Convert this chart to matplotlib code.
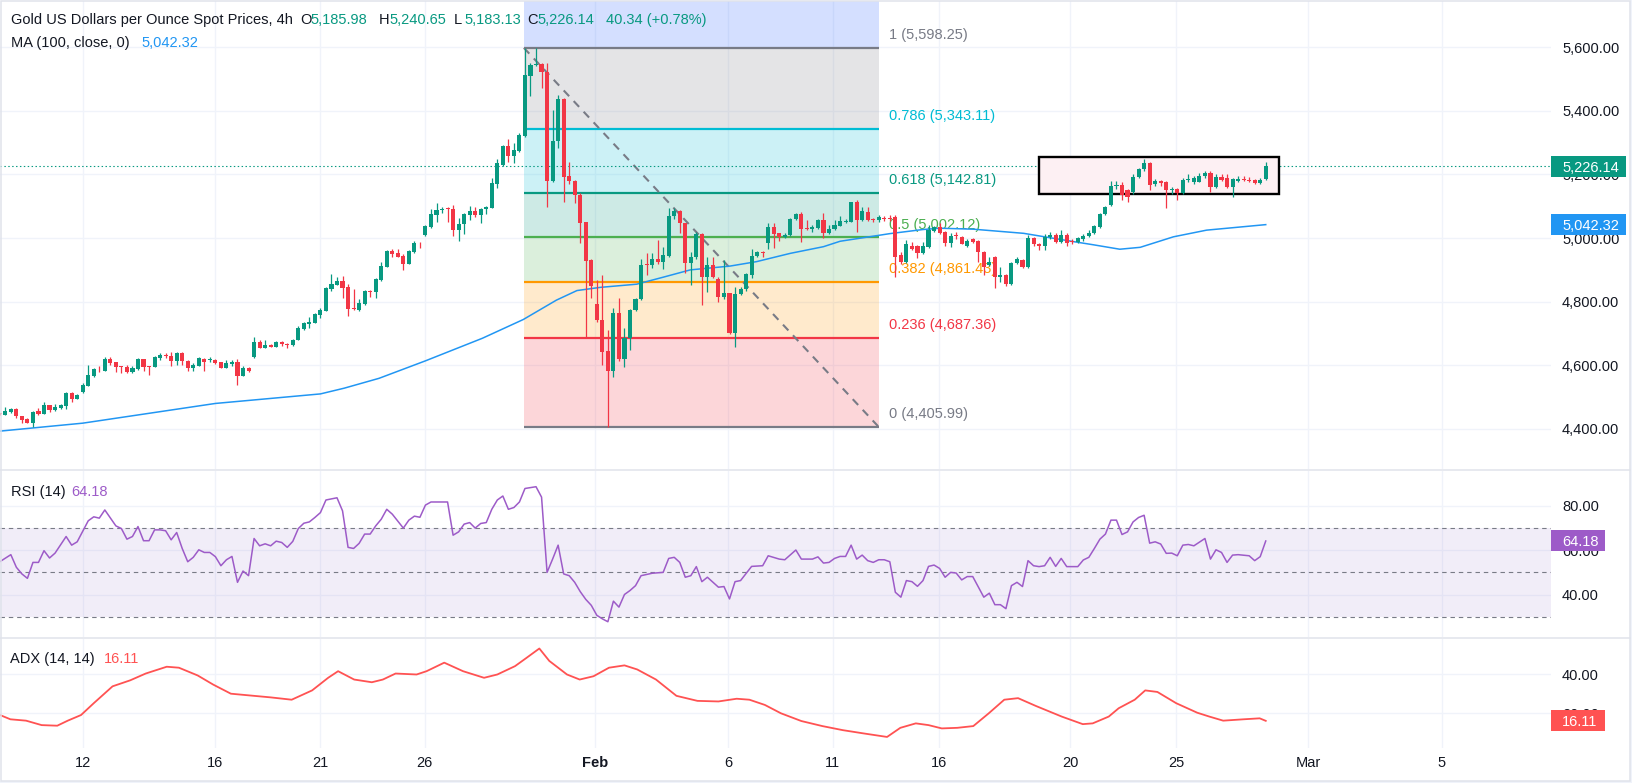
import numpy as np
import matplotlib
matplotlib.use("Agg")
import matplotlib.pyplot as plt
from matplotlib.patches import Rectangle
from matplotlib.lines import Line2D
import matplotlib.transforms as mtransforms

plt.rcParams['font.family'] = ['Liberation Sans', 'DejaVu Sans']

# ---------------- data (4h candles, bar index starts at -1) ----------------
first_bar = -1
opens = [4448,
 4445, 4453, 4463, 4441, 4431, 4420, 4456, 4448, 4475, 4460,
 4466, 4473, 4513, 4495, 4517, 4536, 4566, 4589, 4583, 4620,
 4609, 4598, 4594, 4578, 4587, 4620, 4597, 4596, 4624, 4632,
 4630, 4615, 4640, 4614, 4590, 4599, 4620, 4616, 4618, 4610,
 4593, 4603, 4610, 4567, 4593, 4627, 4672, 4655, 4664, 4659,
 4674, 4667, 4663, 4680, 4713, 4731, 4734, 4759, 4772, 4840,
 4853, 4865, 4846, 4779, 4774, 4793, 4835, 4829, 4868, 4910,
 4960, 4954, 4945, 4920, 4956, 4985, 5010, 5036, 5073, 5088,
 5094, 5091, 5025, 5044, 5073, 5085, 5073, 5090, 5096, 5170,
 5230, 5290, 5259, 5274, 5322, 5511, 5545, 5547, 5521, 5180,
 5305, 5437, 5195, 5178, 5136, 5050, 4931, 4792, 4743, 4645,
 4583, 4764, 4619, 4687, 4774, 4808, 4918, 4914, 4934, 4926,
 4945, 5068, 5086, 5047, 4921, 4940, 5013, 4879, 4916, 4870,
 4816, 4826, 4701, 4824, 4839, 4885, 4944, 4957, 4984, 5034,
 5015, 5003, 5010, 5059, 5076, 5031, 5028, 5031, 5057, 5015,
 5029, 5039, 5052, 5052, 5112, 5057, 5083, 5060, 5057, 5062,
 5063, 5067, 4947, 4926, 4975, 4975, 4952, 4973, 5023, 5034,
 5020, 4986, 5010, 5005, 4975, 4996, 4992, 4957, 4916, 4942,
 4879, 4884, 4856, 4921, 4931, 4910, 4999, 4980, 4975, 5005,
 5010, 4988, 5010, 4989, 4988, 4996, 5008, 5016, 5036, 5075,
 5104, 5163, 5167, 5151, 5146, 5193, 5216, 5237, 5170, 5178,
 5177, 5150, 5154, 5141, 5182, 5177, 5177, 5196, 5205, 5162,
 5191, 5188, 5162, 5181, 5185, 5183, 5183, 5174, 5185.98]
highs = [4450,
 4470, 4465, 4466, 4442, 4434, 4455, 4465, 4483, 4476, 4478,
 4478, 4516, 4516, 4510, 4543, 4601, 4590, 4598, 4625, 4625,
 4610, 4599, 4601, 4599, 4622, 4621, 4598, 4628, 4640, 4640,
 4643, 4643, 4641, 4617, 4606, 4625, 4622, 4625, 4621, 4611,
 4617, 4617, 4620, 4598, 4596, 4688, 4681, 4680, 4666, 4676,
 4676, 4670, 4682, 4724, 4735, 4751, 4766, 4780, 4847, 4887,
 4879, 4881, 4856, 4840, 4809, 4837, 4837, 4874, 4925, 4961,
 4966, 4965, 4950, 4963, 4991, 4987, 5042, 5092, 5111, 5099,
 5099, 5104, 5062, 5080, 5101, 5099, 5094, 5101, 5188, 5248,
 5293, 5312, 5300, 5332, 5598.25, 5550, 5597, 5552, 5552, 5403,
 5450, 5440, 5240, 5182, 5143, 5052, 4933, 4868, 4884, 4711,
 4781, 4813, 4717, 4778, 4812, 4934, 4952, 4952, 4994, 4971,
 5094, 5094, 5088, 5049, 4955, 5020, 5015, 4942, 4942, 4877,
 4931, 4828, 4845, 4845, 4890, 4966, 4960, 4960, 5049, 5047,
 5017, 5015, 5062, 5080, 5083, 5057, 5040, 5060, 5078, 5040,
 5057, 5068, 5060, 5115, 5120, 5099, 5099, 5064, 5072, 5070,
 5072, 5073, 4955, 4993, 4989, 4977, 4989, 5041, 5038, 5046,
 5022, 5015, 5020, 5007, 4996, 4999, 4994, 4959, 4942, 4944,
 4910, 4887, 4926, 4942, 4933, 5010, 5005, 4986, 5012, 5020,
 5015, 5025, 5015, 4996, 5005, 5012, 5025, 5040, 5078, 5100,
 5180, 5178, 5175, 5155, 5200, 5220, 5250, 5240, 5185, 5184,
 5180, 5162, 5158, 5189, 5200, 5195, 5205, 5212, 5212, 5200,
 5202, 5200, 5190, 5196, 5195, 5192, 5186, 5190, 5240.65]
lows = [4444,
 4443, 4450, 4435, 4417, 4419, 4407, 4444, 4446, 4452, 4456,
 4463, 4461, 4483, 4493, 4514, 4534, 4563, 4580, 4581, 4601,
 4580, 4577, 4575, 4577, 4585, 4583, 4571, 4595, 4618, 4622,
 4598, 4602, 4602, 4583, 4583, 4597, 4583, 4610, 4605, 4590,
 4591, 4598, 4539, 4565, 4579, 4622, 4653, 4653, 4657, 4657,
 4660, 4655, 4660, 4678, 4711, 4716, 4732, 4748, 4770, 4835,
 4851, 4813, 4756, 4774, 4772, 4791, 4816, 4813, 4866, 4908,
 4939, 4940, 4900, 4918, 4954, 4970, 5006, 5031, 5052, 5078,
 5052, 5008, 4992, 5013, 5057, 5065, 5049, 5076, 5094, 5159,
 5228, 5240, 5237, 5272, 5318, 5447, 5540, 5473, 5099, 5176,
 5284, 5112, 5170, 5110, 4984, 4690, 4811, 4737, 4600, 4405.99,
 4562, 4615, 4596, 4648, 4770, 4806, 4884, 4905, 4918, 4903,
 4940, 5060, 5015, 4889, 4851, 4935, 4790, 4830, 4875, 4800,
 4810, 4698, 4656, 4820, 4835, 4874, 4940, 4940, 4965, 4968,
 4990, 5000, 5008, 5057, 4989, 5025, 5020, 5029, 4999, 5013,
 5027, 5037, 5048, 5050, 5020, 5055, 5055, 5050, 5050, 5055,
 5055, 4879, 4920, 4922, 4962, 4937, 4950, 4970, 5020, 5013,
 4975, 4973, 4996, 4980, 4973, 4985, 4926, 4884, 4912, 4842,
 4863, 4850, 4853, 4918, 4905, 4907, 4975, 4962, 4962, 4996,
 4985, 4985, 4975, 4980, 4984, 4990, 5005, 5012, 5033, 5072,
 5100, 5155, 5120, 5115, 5140, 5190, 5212, 5150, 5165, 5165,
 5095, 5140, 5120, 5138, 5175, 5170, 5175, 5190, 5145, 5158,
 5180, 5158, 5130, 5175, 5178, 5176, 5170, 5170, 5183.13]
closes = [4446,
 4455, 4463, 4439, 4428, 4420, 4453, 4447, 4475, 4460, 4469,
 4476, 4513, 4494, 4508, 4538, 4570, 4588, 4587, 4620, 4606,
 4596, 4594, 4578, 4590, 4620, 4596, 4596, 4626, 4632, 4630,
 4615, 4640, 4614, 4590, 4601, 4622, 4611, 4618, 4608, 4593,
 4607, 4610, 4567, 4593, 4581, 4672, 4655, 4664, 4659, 4674,
 4667, 4663, 4680, 4716, 4733, 4736, 4762, 4774, 4844, 4856,
 4865, 4844, 4777, 4778, 4796, 4834, 4832, 4870, 4912, 4960,
 4951, 4942, 4920, 4960, 4986, 4983, 5038, 5076, 5088, 5092,
 5091, 5025, 5044, 5076, 5085, 5073, 5092, 5099, 5172, 5235,
 5290, 5259, 5277, 5324, 5513, 5544, 5547, 5521, 5180, 5305,
 5437, 5193, 5178, 5134, 5049, 4929, 4850, 4743, 4643, 4583,
 4764, 4619, 4687, 4774, 4808, 4916, 4916, 4935, 4926, 4947,
 5070, 5086, 5047, 4921, 4940, 5013, 4879, 4916, 4879, 4816,
 4826, 4701, 4824, 4839, 4887, 4944, 4956, 4952, 5034, 5013,
 5003, 5010, 5059, 5076, 5029, 5028, 5036, 5057, 5017, 5029,
 5041, 5054, 5054, 5112, 5057, 5085, 5057, 5057, 5067, 5060,
 5060, 4942, 4926, 4981, 4965, 4952, 4975, 5026, 5034, 5015,
 4986, 5008, 5008, 4982, 4992, 4989, 4957, 4910, 4926, 4877,
 4884, 4856, 4921, 4933, 4910, 4999, 4980, 4975, 5005, 5010,
 4988, 5010, 4985, 4988, 4999, 5007, 5016, 5038, 5075, 5097,
 5164, 5167, 5135, 5128, 5193, 5216, 5237, 5167, 5178, 5174,
 5151, 5153, 5143, 5183, 5184, 5190, 5196, 5205, 5162, 5191,
 5183, 5162, 5185, 5185, 5183, 5181, 5174, 5184, 5226.14]

# MA(100) read at sample bars
ma_x = [-0.96, 14.0, 38.0, 57.0, 61.3, 67.6, 76.0, 86.3, 93.7, 99.7, 103.4, 107.6,
        114.2, 119.0, 123.9, 131.1, 135.9, 142.0, 148.0, 151.0, 154.0, 160.0, 166.0,
        169.1, 175.1, 184.2, 193.2, 196.8, 201.6, 205.3, 211.3, 217.3, 228.0]
ma_v = [4393, 4418, 4480, 4510, 4528, 4559, 4614, 4685, 4744, 4805, 4835, 4845,
        4855, 4877, 4900, 4912, 4926, 4952, 4973, 4990, 4998, 5014, 5027,
        5031, 5028, 5015, 4989, 4979, 4965, 4971, 5004, 5025, 5042.32]

# RSI(14)
rsi_x = [-1, 1, 2, 3, 4, 5, 6, 7, 8, 9, 11, 12, 13, 15, 16, 17, 18, 20, 21, 22, 23, 24,
         25, 26, 27, 28, 29, 30, 31, 32, 33, 34, 35, 36, 37, 38, 39, 40, 41, 42, 43, 44,
         45, 46, 47, 48, 49, 50, 51, 52, 53, 54, 55, 56, 57, 58, 60, 61, 62, 63, 64, 65,
         66, 67, 68, 69, 70, 72, 73, 74, 75, 76, 77, 80, 81, 82, 83, 84, 85, 86, 87, 88,
         89, 90, 91, 92, 93, 94, 96, 97, 98, 99, 100, 101, 102, 103, 104, 105, 106, 107,
         108, 109, 110, 111, 112, 113, 114, 115, 117, 119, 120, 121, 122, 123, 124, 125,
         126, 127, 129, 130, 131, 132, 133, 135, 137, 138, 140, 141, 143, 144, 146, 147,
         148, 149, 150, 151, 152, 153, 154, 155, 156, 157, 158, 159, 160, 161, 162, 163,
         164, 165, 166, 167, 168, 169, 170, 171, 172, 173, 174, 175, 177, 178, 179, 180,
         181, 182, 183, 184, 185, 186, 187, 188, 189, 190, 191, 192, 194, 195, 196, 197,
         198, 199, 200, 201, 202, 203, 204, 205, 206, 207, 208, 209, 210, 211, 212, 213,
         214, 215, 217, 218, 219, 220, 221, 222, 223, 225, 226, 227, 228]
rsi_v = [54.8, 58.0, 52.3, 49.3, 47.3, 54.5, 54.5, 59.8, 56.5, 58.7, 66.2, 62.3, 63.8,
         73.3, 75.1, 74.5, 78.2, 71.0, 69.8, 65.0, 66.2, 70.7, 64.3, 64.3, 69.2, 69.2,
         68.8, 64.7, 68.0, 60.8, 54.8, 56.8, 60.2, 59.0, 59.0, 57.1, 53.0, 55.7, 57.2,
         45.5, 50.6, 48.5, 65.3, 62.0, 62.9, 62.0, 64.1, 63.5, 61.3, 64.0, 69.8, 72.2,
         72.8, 74.8, 77.0, 82.7, 83.7, 77.8, 61.3, 60.8, 63.1, 67.3, 67.3, 71.0, 74.0,
         78.5, 76.3, 70.0, 73.6, 75.4, 74.9, 80.4, 81.8, 81.8, 66.8, 68.3, 71.8, 72.5,
         70.0, 72.1, 72.5, 78.5, 82.7, 84.5, 78.5, 79.3, 81.8, 87.9, 88.7, 84.0, 50.0,
         56.0, 62.3, 49.3, 48.5, 45.5, 41.3, 37.8, 35.1, 30.6, 29.0, 27.7, 37.0, 34.3,
         40.0, 41.8, 44.0, 48.5, 49.6, 50.0, 56.3, 56.8, 54.5, 47.8, 48.5, 52.6, 45.8,
         47.8, 43.3, 43.6, 38.0, 45.8, 46.3, 52.7, 53.0, 57.5, 56.0, 55.7, 60.1, 56.0,
         56.0, 57.0, 54.2, 54.5, 56.3, 57.2, 57.2, 62.3, 56.0, 57.8, 55.3, 54.5, 55.7,
         55.7, 54.8, 41.0, 38.8, 46.3, 45.8, 43.7, 46.3, 52.7, 53.3, 51.8, 47.8, 50.0,
         49.7, 46.6, 48.1, 48.1, 38.8, 40.6, 35.4, 35.4, 33.6, 44.0, 45.5, 43.6, 55.3,
         53.0, 52.6, 53.0, 56.8, 52.7, 56.3, 52.6, 52.6, 55.6, 56.8, 60.8, 65.0, 67.3,
         73.6, 73.6, 67.1, 68.3, 72.8, 74.8, 75.8, 63.2, 63.8, 62.8, 58.6, 58.7, 57.5,
         62.3, 62.6, 62.0, 65.3, 56.0, 60.2, 59.0, 54.5, 57.8, 58.0, 57.5, 55.3, 57.1,
         64.18]

# ADX(14, 14)
adx_x = [-0.96, 0.92, 3.75, 6.57, 9.4, 11.3, 13.7, 16.0, 19.4, 22.6, 25.4, 29.2, 31.4,
         34.8, 37.6, 40.8, 44.2, 48.0, 51.8, 55.5, 58.4, 60.2, 63.1, 66.3, 68.3, 70.6,
         74.4, 76.2, 79.4, 82.8, 86.6, 89.0, 92.2, 94.1, 96.6, 98.4, 101.6, 103.9, 106.4,
         109.2, 112.0, 114.3, 117.7, 121.4, 125.2, 129.0, 132.3, 134.6, 137.4, 140.3,
         144.0, 147.8, 151.5, 155.3, 159.5, 161.9, 164.7, 167.0, 169.4, 172.2, 175.1,
         177.9, 180.7, 183.2, 186.4, 191.1, 194.9, 196.7, 199.6, 201.4, 204.3, 206.2,
         208.4, 211.8, 215.6, 217.8, 220.3, 224.0, 226.9, 228.0]
adx_v = [19.1, 16.9, 16.2, 13.9, 13.6, 16.2, 19.1, 25.2, 33.9, 37.0, 40.5, 44.0, 43.5,
         39.5, 34.8, 30.1, 29.2, 28.2, 27.0, 31.8, 38.3, 41.7, 37.4, 36.0, 37.4, 40.5,
         40.0, 41.7, 46.1, 41.7, 38.3, 40.0, 44.3, 48.2, 53.4, 47.0, 40.0, 37.4, 39.1,
         43.5, 44.7, 42.6, 37.4, 29.0, 26.4, 26.1, 27.5, 27.0, 24.3, 20.0,
         16.0, 13.4, 11.3, 9.6, 7.8, 12.5, 14.8, 13.9, 12.2, 12.5, 13.4,
         20.0, 27.0, 27.8, 23.8, 18.3, 14.4, 14.8, 18.3, 22.6, 27.0, 31.8,
         31.0, 25.2, 20.3, 18.3, 16.2, 16.9, 17.4, 16.11]

fib_ratios = ['1', '0.786', '0.618', '0.5', '0.382', '0.236', '0']
fib_prices = [5598.25, 5343.11, 5142.81, 5002.12, 4861.43, 4687.36, 4405.99]
fib_span = [93.8, 158.0]
box_span = [186.9, 230.4]
box_prices = [5137.7, 5254.0]

price_ticks = [4400, 4600, 4800, 5000, 5200, 5400, 5600]
rsi_ticks = [40, 60, 80]
adx_ticks = [20, 40]
date_pos = [14.06, 37.9, 57.0, 75.85, 106.7, 130.8, 149.7, 168.9, 192.6, 211.8, 235.7, 259.8]
date_labels = ['12', '16', '21', '26', 'Feb', '6', '11', '16', '20', '25', 'Mar', '5']

last_open, last_high, last_low, last_close = 5185.98, 5240.65, 5183.13, 5226.14
last_chg, last_pct = 40.34, 0.78
ma_last = 5042.32
rsi_last = 64.18
adx_last = 16.11

# ---------------- styling ----------------
GREEN = '#089981'
RED = '#f23645'
TXT = '#131722'
GRID = '#f0f3fa'
FS = 10.5
W, H = 1632, 783

fig = plt.figure(figsize=(W / 100, H / 100), dpi=100)
fig.patch.set_facecolor('white')


def rect(x0, y0, x1, y1):
    return [x0 / W, 1 - y1 / H, (x1 - x0) / W, (y1 - y0) / H]


ax = fig.add_axes(rect(0, 1.5, 1551, 469.5))
ax_r = fig.add_axes(rect(0, 471, 1551, 637))
ax_a = fig.add_axes(rect(0, 639, 1551, 748))

xlim = (-0.96, 279.6)
for a in (ax, ax_r, ax_a):
    for s in a.spines.values():
        s.set_visible(False)
    a.set_facecolor('none')
    a.set_xlim(*xlim)
    a.set_xticks(date_pos)
    a.set_axisbelow(True)
    a.grid(True, color=GRID, lw=1.0)
    a.yaxis.tick_right()
    a.tick_params(axis='both', length=0, labelsize=FS, labelcolor=TXT)
    a.tick_params(axis='y', pad=8)

ax.tick_params(labelbottom=False)
ax_r.tick_params(labelbottom=False)
ax_a.set_xticklabels(date_labels)
ax_a.tick_params(axis='x', pad=5.8)
for t in ax_a.get_xticklabels():
    if t.get_text() == 'Feb':
        t.set_fontweight('bold')

ax.set_ylim(4272.3, 5744.0)
ax.set_yticks(price_ticks)
ax.set_yticklabels([f'{v:,.2f}' for v in price_ticks])
ax_r.set_ylim(20.8, 95.8)
ax_r.set_yticks(rsi_ticks)
ax_r.set_yticklabels([f'{v:.2f}' for v in rsi_ticks])
ax_a.set_ylim(2.1, 58.3)
ax_a.set_yticks(adx_ticks)
ax_a.set_yticklabels([f'{v:.2f}' for v in adx_ticks])

# ---------------- fibonacci retracement ----------------
fib_cols = ['#787b86', '#00bcd4', '#089981', '#4caf50', '#ff9800', '#f23645', '#787b86']
fx0, fx1 = fib_span
ax.fill_between([fx0, fx1], fib_prices[0], 6000, color='#2962ff', alpha=0.2, lw=0, zorder=1)
for k in range(len(fib_prices) - 1):
    ax.fill_between([fx0, fx1], fib_prices[k + 1], fib_prices[k], color=fib_cols[k],
                    alpha=0.2, lw=0, zorder=1)
for k, p in enumerate(fib_prices):
    ax.plot([fx0, fx1], [p, p], color=fib_cols[k], lw=1.6, zorder=1.5, solid_capstyle='butt')
    ax.annotate(f'{fib_ratios[k]} ({p:,.2f})', xy=(fx1, p), xytext=(7.3, 9.2),
                textcoords='offset points', color=fib_cols[k], fontsize=FS,
                va='center', ha='left', zorder=1.6)
ax.plot([fx0, fx1], [fib_prices[0], fib_prices[-1]], color='#787b86', lw=1.5,
        ls=(0, (3.8, 3.2)), zorder=1.7)

# ---------------- range box ----------------
ax.add_patch(Rectangle((box_span[0], box_prices[0]), box_span[1] - box_span[0],
                       box_prices[1] - box_prices[0], fc='#fdf0f3', ec='black',
                       lw=1.7, zorder=2.2))

# current price line
ax.axhline(last_close, color=GREEN, lw=0.8, ls=(0, (1.3, 2.2)), zorder=2)

# MA
ax.plot(ma_x, ma_v, color='#2196f3', lw=1.1, zorder=2.5)

# ---------------- candles ----------------
o = np.array(opens, float)
h = np.array(highs, float)
l = np.array(lows, float)
c = np.array(closes, float)
xb = np.arange(first_bar, first_bar + len(o))
cols = np.where(c >= o, GREEN, RED)
ax.vlines(xb, l, h, colors=cols, lw=0.9, zorder=3)
ax.bar(xb, np.maximum(np.abs(c - o), 2.5), bottom=np.minimum(o, c), width=0.74,
       color=cols, lw=0, zorder=3.1)

# ---------------- RSI ----------------
ax_r.axhspan(30, 70, color='#7e57c2', alpha=0.1, lw=0, zorder=0.6)
for lvl in (70, 50, 30):
    ax_r.axhline(lvl, color='#787b86', lw=0.8, ls=(0, (4.0, 3.5)), zorder=0.7)
RSI_COL = '#9d5bc8'
ax_r.plot(rsi_x, rsi_v, color=RSI_COL, lw=1.1, zorder=2)

# ---------------- ADX ----------------
ADX_COL = '#ff5252'
ax_a.plot(adx_x, adx_v, color=ADX_COL, lw=1.3, zorder=2)


# ---------------- value tags on the price scale ----------------
def value_tag(a, val, text, color, width_px, height_px=21):
    pos = a.get_position()
    y0, y1 = a.get_ylim()
    upp = (y1 - y0) / (pos.height * H)
    wfrac = width_px / (pos.width * W)
    trans = mtransforms.blended_transform_factory(a.transAxes, a.transData)
    a.add_patch(Rectangle((1.0, val - upp * height_px / 2), wfrac, upp * height_px,
                          transform=trans, fc=color, ec='none', clip_on=False, zorder=10))
    a.text(1.0 + 11 / (pos.width * W), val, text, transform=trans, color='white',
           fontsize=FS, va='center_baseline', ha='left', zorder=11, clip_on=False)


value_tag(ax, last_close, f'{last_close:,.2f}', GREEN, 75)
value_tag(ax, ma_last, f'{ma_last:,.2f}', '#2196f3', 75)
value_tag(ax_r, rsi_last, f'{rsi_last:.2f}', RSI_COL, 54)
value_tag(ax_a, adx_last, f'{adx_last:.2f}', ADX_COL, 54)


# ---------------- legend texts ----------------
def ftext(xp, yp, s, color=TXT, **kw):
    fig.text(xp / W, 1 - yp / H, s, color=color, fontsize=FS, va='center', ha='left', **kw)


ftext(11, 20, 'Gold US Dollars per Ounce Spot Prices, 4h')
ftext(300, 20, 'O')
ftext(310, 20, f'{last_open:,.2f}', GREEN)
ftext(378.6, 20, 'H')
ftext(389, 20, f'{last_high:,.2f}', GREEN)
ftext(454, 20, 'L')
ftext(464, 20, f'{last_low:,.2f}', GREEN)
ftext(527, 20, 'C')
ftext(537, 20, f'{last_close:,.2f}', GREEN)
ftext(606, 20, f'{last_chg:.2f} (+{last_pct:.2f}%)', GREEN)
ftext(11, 43, 'MA (100, close, 0)')
ftext(141, 43, f'{ma_last:,.2f}', '#2196f3')
ftext(11, 492, 'RSI (14)')
ftext(71.6, 492, f'{rsi_last:.2f}', RSI_COL)
ftext(10.5, 659, 'ADX (14, 14)')
ftext(104, 659, f'{adx_last:.2f}', ADX_COL)

# ---------------- frame and pane separators ----------------
FRAME = '#e0e3eb'
fig.add_artist(Rectangle((1630 / W, 0), 2 / W, 1, transform=fig.transFigure,
                         fc='#f0f3fa', ec='none'))
fig.add_artist(Rectangle((0, 0), 1, 2 / H, transform=fig.transFigure,
                         fc='#f0f3fa', ec='none'))
fig.add_artist(Rectangle((0.75 / W, 1 - 781 / H), (1630 - 0.75) / W, (781 - 0.75) / H,
                         transform=fig.transFigure, fill=False, ec=FRAME, lw=1.1))
for yp in (470, 638):
    fig.add_artist(Line2D([0, 1630 / W], [1 - yp / H, 1 - yp / H],
                          transform=fig.transFigure, color=FRAME, lw=1.1))

fig.savefig('out.png', dpi=100)
